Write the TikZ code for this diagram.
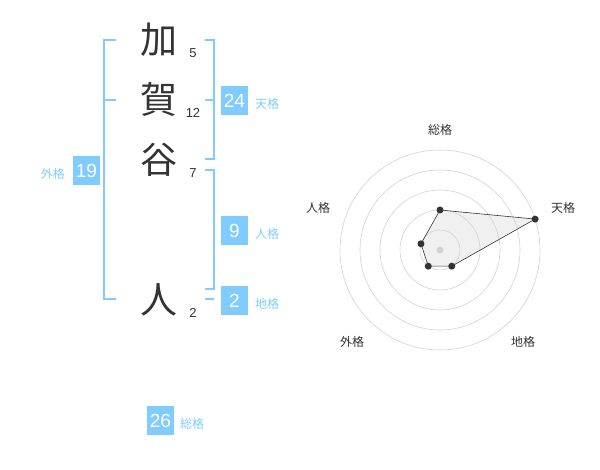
\documentclass[tikz,border=0pt]{standalone}
\usepackage{fontspec}
\setmainfont{Liberation Sans}
\newfontfamily\cjk{Noto Sans CJK JP}

\definecolor{kakublue}{RGB}{128,204,255}
\definecolor{inkgray}{RGB}{51,51,51}
\definecolor{ringgray}{RGB}{210,210,210}
\definecolor{areagray}{RGB}{225,225,225}

\tikzset{
  kanji/.style={text=inkgray,font=\cjk\fontsize{37}{37}\selectfont,inner sep=0pt},
  strokes/.style={text=inkgray,font=\fontsize{13}{13}\selectfont,inner sep=0pt},
  kakubox/.style={fill=kakublue,text=white,minimum width=27,minimum height=29,inner sep=0pt,font=\fontsize{19}{19}\selectfont},
  kakulabel/.style={text=kakublue,font=\cjk\fontsize{12}{12}\selectfont,inner sep=0pt},
  bracket/.style={draw=kakublue,line width=1.6pt},
  axislabel/.style={text=inkgray,font=\cjk\fontsize{12}{12}\selectfont,inner sep=0pt},
  datadot/.style={fill=inkgray,circle,inner sep=0pt,minimum size=7}
}

\begin{document}
\begin{tikzpicture}[x=1pt,y=1pt,line cap=butt,line join=miter]
        \useasboundingbox (0,0) rectangle (600,470);

        % Nombre y trazos
        \node[kanji] (k1) at (159,430) {加};
        \node[kanji] (k2) at (159,370) {賀};
        \node[kanji] (k3) at (159,310) {谷};
        \node[kanji] (k4) at (159,170) {人};
        \node[strokes] (s1) at (193,417) {5};
        \node[strokes] (s2) at (193,357) {12};
        \node[strokes] (s3) at (193,297) {7};
        \node[strokes] (s4) at (193,157) {2};

        % Corchetes
        \draw[bracket] (116,430) -- (104,430) -- (104,171) -- (116,171);
        \draw[bracket] (104,370) -- (116,370);
        \draw[bracket] (205,430) -- (214,430) -- (214,311) -- (205,311);
        \draw[bracket] (205,370) -- (214,370);
        \draw[bracket] (205,300) -- (214,300) -- (214,181) -- (205,181);
        \draw[bracket] (205,171) -- (214,171);

        % Valores de cada kaku
        \node[kakubox] (ten) at (234.5,369.5) {24};
        \node[kakulabel,anchor=west] at (255,366) {天格};
        \node[kakubox] (jin) at (234.5,239.5) {9};
        \node[kakulabel,anchor=west] at (255,236) {人格};
        \node[kakubox] (chi) at (234.5,169.5) {2};
        \node[kakulabel,anchor=west] at (255,166) {地格};
        \node[kakubox] (gai) at (86.5,299.5) {19};
        \node[kakulabel,anchor=east] at (65,296) {外格};
        \node[kakubox] (sou) at (160.5,49.5) {26};
        \node[kakulabel,anchor=west] at (180,46) {総格};

        % Radar
        \begin{scope}[shift={(440,220)}]
            \coordinate (p1) at (90:40);
            \coordinate (p2) at (18:100);
            \coordinate (p3) at (-54:20);
            \coordinate (p4) at (-126:20);
            \coordinate (p5) at (162:20);
            \fill[areagray,fill opacity=0.5]
                (p1) -- (p2) -- (p3) -- (p4) -- (p5) -- cycle;
            \foreach \r in {20,40,...,100}
                \draw[ringgray,line width=0.6pt] (0,0) circle (\r);
            \fill[ringgray] (0,0) circle (3.5);
            \draw[inkgray,line width=0.6pt]
                (p1) -- (p2) -- (p3) -- (p4) -- (p5) -- cycle;
            \foreach \p in {p1,p2,p3,p4,p5}
                \node[datadot] at (\p) {};
        \end{scope}
        \node[axislabel] (asou) at (440,340) {総格};
        \node[axislabel] (aten) at (563,262) {天格};
        \node[axislabel] (achi) at (523,128) {地格};
        \node[axislabel] (agai) at (352,128) {外格};
        \node[axislabel] (ajin) at (318,262) {人格};

    \end{tikzpicture}
\end{document}
